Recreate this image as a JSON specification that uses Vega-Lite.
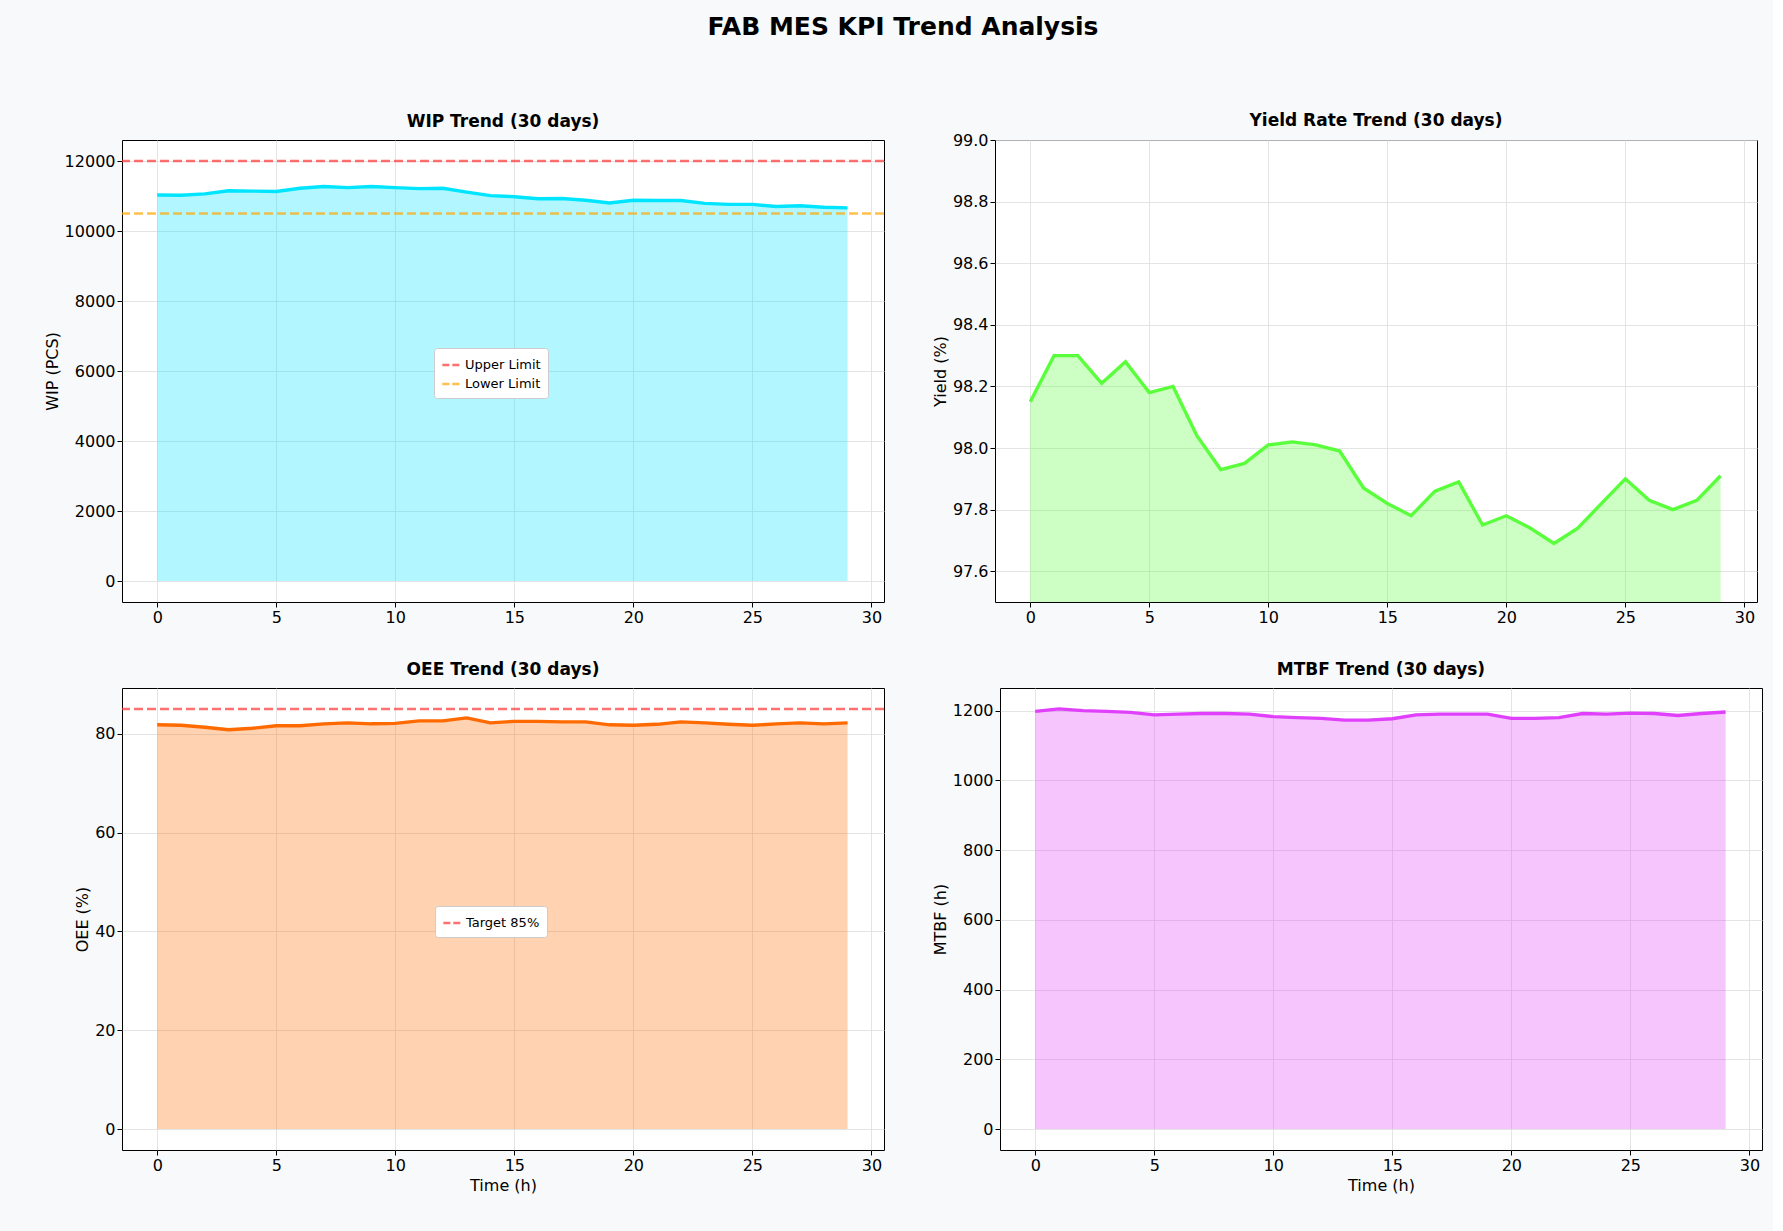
{
"$schema":"https://vega.github.io/schema/vega-lite/v6.json",
"background":"#f8f9fa",
"padding":{"left":43,"top":14,"right":10,"bottom":40},
"title":{"text":"FAB MES KPI Trend Analysis","fontSize":25,"font":"DejaVu Sans","fontWeight":"bold","offset":72,"anchor":"middle"},
"config":{"font":"DejaVu Sans","view":{"fill":"white","stroke":"black"},
"axis":{"labelFontSize":16,"titleFontSize":16,"titleFontWeight":"normal","labelColor":"black","titleColor":"black","domain":false,"tickColor":"black","gridColor":"#dddddd","gridOpacity":0.8},
"title":{"fontSize":17,"fontWeight":"bold","font":"DejaVu Sans","offset":9},
"concat":{"spacing":45}},
"datasets":{"d":[
{"t":0,"wip":11030,"yield":98.15,"oee":81.8,"mtbf":1198},
{"t":1,"wip":11020,"yield":98.30,"oee":81.7,"mtbf":1205},
{"t":2,"wip":11060,"yield":98.30,"oee":81.3,"mtbf":1200},
{"t":3,"wip":11150,"yield":98.21,"oee":80.8,"mtbf":1198},
{"t":4,"wip":11140,"yield":98.28,"oee":81.1,"mtbf":1195},
{"t":5,"wip":11130,"yield":98.18,"oee":81.6,"mtbf":1188},
{"t":6,"wip":11220,"yield":98.20,"oee":81.6,"mtbf":1190},
{"t":7,"wip":11270,"yield":98.04,"oee":82.0,"mtbf":1192},
{"t":8,"wip":11240,"yield":97.93,"oee":82.2,"mtbf":1192},
{"t":9,"wip":11270,"yield":97.95,"oee":82.0,"mtbf":1190},
{"t":10,"wip":11240,"yield":98.01,"oee":82.1,"mtbf":1183},
{"t":11,"wip":11210,"yield":98.02,"oee":82.6,"mtbf":1180},
{"t":12,"wip":11220,"yield":98.01,"oee":82.6,"mtbf":1178},
{"t":13,"wip":11110,"yield":97.99,"oee":83.2,"mtbf":1173},
{"t":14,"wip":11010,"yield":97.87,"oee":82.2,"mtbf":1173},
{"t":15,"wip":10980,"yield":97.82,"oee":82.5,"mtbf":1177},
{"t":16,"wip":10920,"yield":97.78,"oee":82.5,"mtbf":1188},
{"t":17,"wip":10930,"yield":97.86,"oee":82.4,"mtbf":1190},
{"t":18,"wip":10880,"yield":97.89,"oee":82.4,"mtbf":1190},
{"t":19,"wip":10800,"yield":97.75,"oee":81.8,"mtbf":1190},
{"t":20,"wip":10880,"yield":97.78,"oee":81.7,"mtbf":1178},
{"t":21,"wip":10870,"yield":97.74,"oee":81.9,"mtbf":1178},
{"t":22,"wip":10870,"yield":97.69,"oee":82.4,"mtbf":1180},
{"t":23,"wip":10790,"yield":97.74,"oee":82.2,"mtbf":1192},
{"t":24,"wip":10760,"yield":97.82,"oee":81.9,"mtbf":1190},
{"t":25,"wip":10760,"yield":97.90,"oee":81.7,"mtbf":1193},
{"t":26,"wip":10700,"yield":97.83,"oee":82.0,"mtbf":1192},
{"t":27,"wip":10720,"yield":97.80,"oee":82.2,"mtbf":1186},
{"t":28,"wip":10680,"yield":97.83,"oee":82.0,"mtbf":1192},
{"t":29,"wip":10660,"yield":97.91,"oee":82.2,"mtbf":1196}],
"wipl":[{"label":"Upper Limit","v":12000},{"label":"Lower Limit","v":10500}],
"oeel":[{"label":"Target 85%","v":85}]},
"spacing":34,
"vconcat":[
{"hconcat":[
{"width":762,"height":462,"title":"WIP Trend (30 days)","data":{"name":"d"},
"layer":[
{"mark":{"type":"area","color":"#00e5ff","opacity":0.3},"encoding":{"x":{"field":"t","type":"quantitative","scale":{"domain":[-1.48,30.53],"nice":false},"axis":{"values":[0,5,10,15,20,25,30],"title":null}},"y":{"field":"wip","type":"quantitative","scale":{"domain":[-600,12600],"nice":false},"axis":{"values":[0,2000,4000,6000,8000,10000,12000],"title":"WIP (PCS)","format":"d"}}}},
{"mark":{"type":"line","color":"#00e5ff","strokeWidth":3.4},"encoding":{"x":{"field":"t","type":"quantitative"},"y":{"field":"wip","type":"quantitative"}}},
{"data":{"name":"wipl"},"mark":{"type":"rule","strokeDash":[9,4],"strokeWidth":2.3,"opacity":0.7},"encoding":{"y":{"field":"v","type":"quantitative"},"color":{"field":"label","type":"nominal","scale":{"domain":["Upper Limit","Lower Limit"],"range":["#ff3333","#ffa500"]},"legend":{"title":null,"orient":"none","legendX":312,"legendY":208,"symbolType":"stroke","symbolDash":[7,3],"symbolStrokeWidth":2.3,"symbolSize":300,"labelFontSize":13,"fillColor":"white","strokeColor":"#cccccc","padding":7,"cornerRadius":3}}}}
]},
{"width":762,"height":462,"title":{"text":"Yield Rate Trend (30 days)","offset":2},"data":{"name":"d"},
"layer":[
{"mark":{"type":"area","color":"#5aff3c","opacity":0.3},"encoding":{"x":{"field":"t","type":"quantitative","scale":{"domain":[-1.48,30.53],"nice":false},"axis":{"values":[0,5,10,15,20,25,30],"title":null}},"y":{"field":"yield","type":"quantitative","scale":{"domain":[97.5,99.0],"nice":false,"zero":false},"axis":{"values":[97.6,97.8,98.0,98.2,98.4,98.6,98.8,99.0],"format":".1f","title":"Yield (%)"}},"y2":{"datum":97.5}}},
{"mark":{"type":"line","color":"#5aff3c","strokeWidth":3.4},"encoding":{"x":{"field":"t","type":"quantitative"},"y":{"field":"yield","type":"quantitative"}}}
]}
]},
{"hconcat":[
{"width":762,"height":462,"title":"OEE Trend (30 days)","data":{"name":"d"},
"layer":[
{"mark":{"type":"area","color":"#ff6a00","opacity":0.3},"encoding":{"x":{"field":"t","type":"quantitative","scale":{"domain":[-1.48,30.53],"nice":false},"axis":{"values":[0,5,10,15,20,25,30],"title":"Time (h)"}},"y":{"field":"oee","type":"quantitative","scale":{"domain":[-4.25,89.25],"nice":false},"axis":{"values":[0,20,40,60,80],"title":"OEE (%)"}}}},
{"mark":{"type":"line","color":"#ff6a00","strokeWidth":3.4},"encoding":{"x":{"field":"t","type":"quantitative"},"y":{"field":"oee","type":"quantitative"}}},
{"data":{"name":"oeel"},"mark":{"type":"rule","strokeDash":[9,4],"strokeWidth":2.3,"opacity":0.7},"encoding":{"y":{"field":"v","type":"quantitative"},"color":{"field":"label","type":"nominal","scale":{"domain":["Target 85%"],"range":["#ff3333"]},"legend":{"title":null,"orient":"none","legendX":313,"legendY":218,"symbolType":"stroke","symbolDash":[7,3],"symbolStrokeWidth":2.3,"symbolSize":300,"labelFontSize":13,"fillColor":"white","strokeColor":"#cccccc","padding":7,"cornerRadius":3}}}}
]},
{"width":762,"height":462,"title":"MTBF Trend (30 days)","data":{"name":"d"},
"layer":[
{"mark":{"type":"area","color":"#e040fb","opacity":0.3},"encoding":{"x":{"field":"t","type":"quantitative","scale":{"domain":[-1.48,30.53],"nice":false},"axis":{"values":[0,5,10,15,20,25,30],"title":"Time (h)"}},"y":{"field":"mtbf","type":"quantitative","scale":{"domain":[-60,1265],"nice":false},"axis":{"values":[0,200,400,600,800,1000,1200],"title":"MTBF (h)","format":"d"}}}},
{"mark":{"type":"line","color":"#e040fb","strokeWidth":3.4},"encoding":{"x":{"field":"t","type":"quantitative"},"y":{"field":"mtbf","type":"quantitative"}}}
]}
]}
],
"resolve":{"scale":{"color":"independent"}}
}
